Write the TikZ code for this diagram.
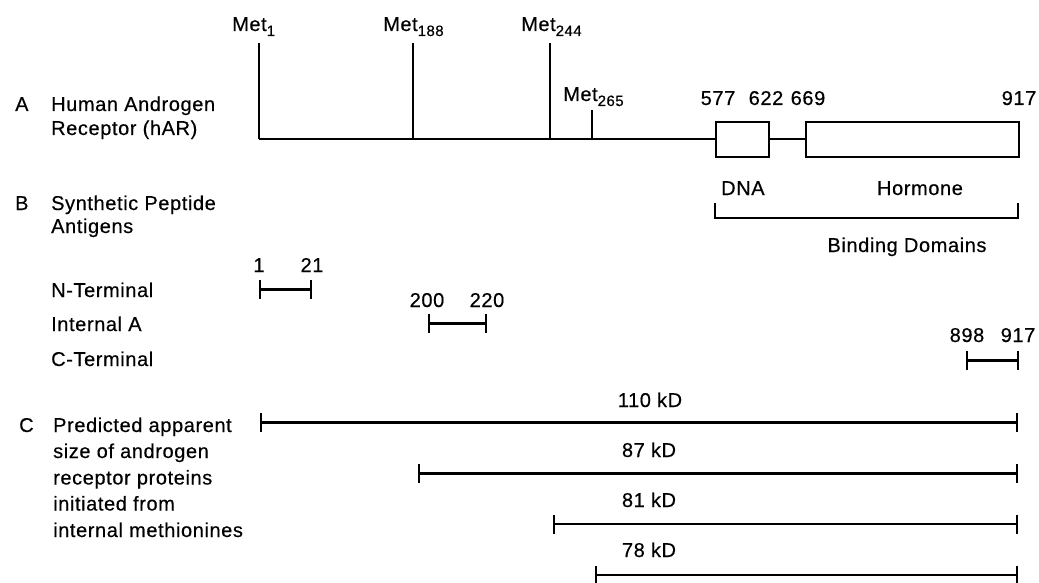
\documentclass[tikz,border=0pt]{standalone}
\usepackage{fontspec}
\setmainfont{Liberation Sans}[LetterSpace=3,FakeBold=0.4]
\usetikzlibrary{arrows.meta,positioning}

\tikzset{
  lbl/.style={anchor=base west,inner sep=0pt},
  num/.style={anchor=base,inner sep=0pt},
  rod/.style={line width=2pt},
  dombox/.style={draw,line width=2pt,inner sep=0pt,minimum height=35pt,anchor=west},
  sizebar/.style={line width=2.4pt,{Bar[width=19pt,line width=2.4pt]}-{Bar[width=19pt,line width=2.4pt]}}
}
\newcommand{\msub}[1]{\raisebox{-5pt}{\fontsize{15}{15}\selectfont #1}}

\begin{document}
\begin{tikzpicture}[x=1pt,y=-1pt,font=\fontsize{20}{26}\selectfont]
\useasboundingbox (0,0) rectangle (1039,583);

% A: the receptor
\node[lbl] (secA) at (15,111) {A};
\node[lbl] (hum) at (51,111) {Human Androgen};
\node[lbl] (rec) at (51,135) {Receptor (hAR)};

\coordinate (p1) at (259,139.5);
\coordinate (p188) at (413,139.5);
\coordinate (p244) at (550,139.5);
\coordinate (p265) at (592,139.5);
\coordinate (t1) at (259,43);
\coordinate (t188) at (413,43);
\coordinate (t244) at (550,43);
\coordinate (t265) at (592,110);
\node[lbl] (met1) at (232,31) {Met\msub{1}};
\node[lbl] (met188) at (383,31) {Met\msub{188}};
\node[lbl] (met244) at (521,31) {Met\msub{244}};
\node[lbl] (met265) at (563,101) {Met\msub{265}};

\node[dombox,minimum width=53pt] (dna) at (715,139.5) {};
\node[dombox,minimum width=213pt] (hormone) at (805,139.5) {};
\draw[rod] (p1) -- (dna.west);
\draw[rod] (dna.east) -- (hormone.west);
\draw[rod] (p1) -- (t1);
\draw[rod] (p188) -- (t188);
\draw[rod] (p244) -- (t244);
\draw[rod] (p265) -- (t265);

\node[num] (n577) at (718,105) {577};
\node[num] (n622) at (766,105) {622};
\node[num] (n669) at (808,105) {669};
\node[num] (n917) at (1019,105) {917};

% binding domains
\node[lbl] (dnatxt) at (721,195) {DNA};
\node[num] (hormtxt) at (920,195) {Hormone};
\coordinate (bkL) at (715,203);
\coordinate (bkR) at (1018,203);
\draw[rod] (bkL) -- ++(0,15) -| (bkR);
\node[num] (bind) at (907,252) {Binding Domains};

% B: peptides
\node[lbl] (secB) at (15,210) {B};
\node[lbl] (syn) at (51,210) {Synthetic Peptide};
\node[lbl] (ant) at (51,233) {Antigens};
\node[lbl] (nterm) at (51,297) {N-Terminal};
\node[lbl] (inta) at (51,331) {Internal A};
\node[lbl] (cterm) at (51,366) {C-Terminal};

\coordinate (a1) at (259,289.5);
\coordinate (a21) at (312,289.5);
\draw[sizebar] (a1) -- (a21);
\node[num] (l1) at (259,272) {1};
\node[num] (l21) at (312,272) {21};

\coordinate (a200) at (428,323.5);
\coordinate (a220) at (487,323.5);
\draw[sizebar] (a200) -- (a220);
\node[num] (l200) at (427,307) {200};
\node[num] (l220) at (487,307) {220};

\coordinate (a898) at (966,360.5);
\coordinate (a917) at (1019,360.5);
\draw[sizebar] (a898) -- (a917);
\node[num] (l898) at (967,342) {898};
\node[num] (l917) at (1018,342) {917};

% C: predicted sizes
\node[lbl] (secC) at (19,432) {C};
\node[lbl] (c1) at (53,432) {Predicted apparent};
\node[lbl] (c2) at (53,458) {size of androgen};
\node[lbl] (c3) at (53,484.5) {receptor proteins};
\node[lbl] (c4) at (53,510.5) {initiated from};
\node[lbl] (c5) at (53,537) {internal methionines};

\coordinate (s110) at (260,422.5);
\coordinate (s87) at (418,473.5);
\coordinate (s81) at (553,524);
\coordinate (s78) at (595,575);
\coordinate (e110) at (1018,422.5);
\coordinate (e87) at (1018,473.5);
\coordinate (e81) at (1018,524);
\coordinate (e78) at (1018,575);
\draw[sizebar] (s110) -- (e110);
\draw[sizebar] (s87) -- (e87);
\draw[sizebar] (s81) -- (e81);
\draw[sizebar] (s78) -- (e78);
\node[num] (k110) at (650,407) {110 kD};
\node[num] (k87) at (649,457) {87 kD};
\node[num] (k81) at (649,507) {81 kD};
\node[num] (k78) at (649,557) {78 kD};
\end{tikzpicture}
\end{document}
